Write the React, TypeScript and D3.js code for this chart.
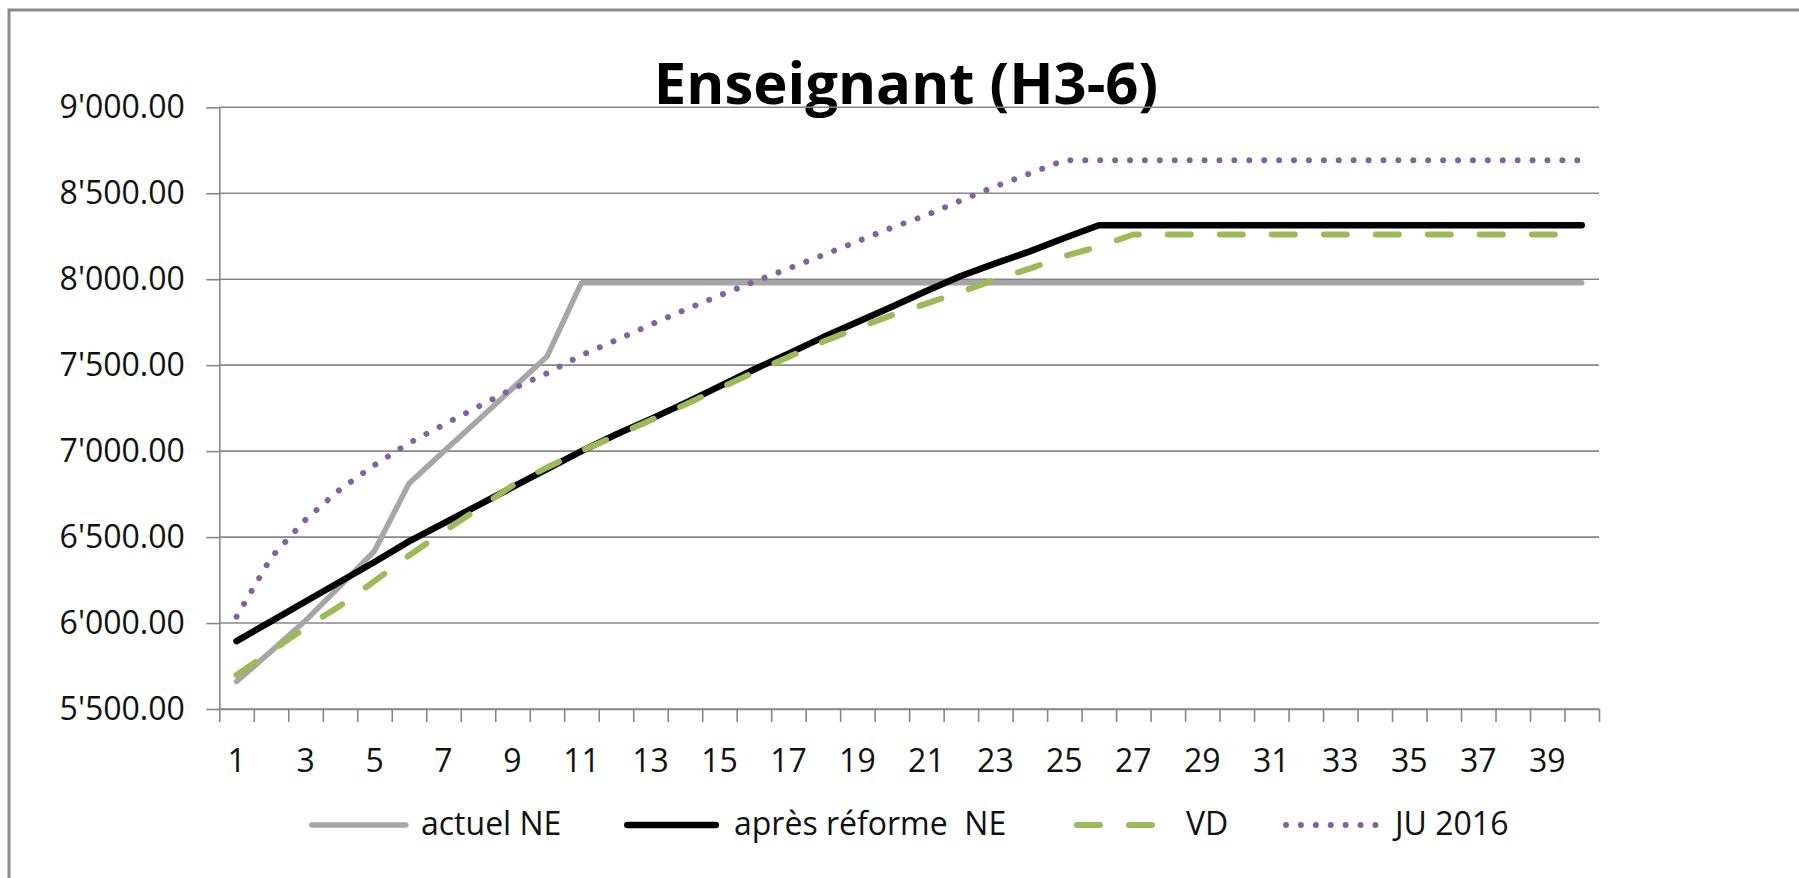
import React, { useEffect, useRef } from "react";
import * as d3 from "d3";

// years of service (x categories)
const categories = [1, 2, 3, 4, 5, 6, 7, 8, 9, 10, 11, 12, 13, 14, 15, 16, 17, 18, 19, 20,
    21, 22, 23, 24, 25, 26, 27, 28, 29, 30, 31, 32, 33, 34, 35, 36, 37, 38, 39, 40];

const yTicks = [5500, 6000, 6500, 7000, 7500, 8000, 8500, 9000];

const actuelNE = [5660, 5835, 6015, 6215, 6420, 6812, 6997, 7180, 7365, 7550,
    7980, 7980, 7980, 7980, 7980, 7980, 7980, 7980, 7980, 7980,
    7980, 7980, 7980, 7980, 7980, 7980, 7980, 7980, 7980, 7980,
    7980, 7980, 7980, 7980, 7980, 7980, 7980, 7980, 7980, 7980];

const apresReformeNE = [5895, 6010, 6125, 6240, 6355, 6475, 6580, 6685, 6790, 6895,
    7000, 7097, 7186, 7279, 7377, 7475, 7567, 7662, 7751, 7840,
    7931, 8019, 8092, 8162, 8240, 8314, 8314, 8314, 8314, 8314,
    8314, 8314, 8314, 8314, 8314, 8314, 8314, 8314, 8314, 8314];

const vd = [5698, 5835, 5973, 6100, 6244, 6393, 6531, 6665, 6800, 6905,
    7002, 7090, 7180, 7270, 7365, 7458, 7548, 7636, 7716, 7791,
    7858, 7926, 7998, 8062, 8134, 8190, 8260, 8260, 8260, 8260,
    8260, 8260, 8260, 8260, 8260, 8260, 8260, 8260, 8260, 8260];

const ju2016 = [6037, 6380, 6601, 6777, 6919, 7047, 7153, 7258, 7362, 7453,
    7558, 7645, 7735, 7822, 7905, 7985, 8062, 8140, 8220, 8300,
    8372, 8458, 8540, 8615, 8692, 8692, 8692, 8692, 8692, 8692,
    8692, 8692, 8692, 8692, 8692, 8692, 8692, 8692, 8692, 8692];

const seriesNames = ["actuel NE", "après réforme  NE", "VD", "JU 2016"];

var W = 1799, H = 878;
var plot = { left: 219.3, right: 1599, top: 107.3, bottom: 709 };
var font = "'Open Sans', sans-serif";
var gridColor = "#878787";

// line styles, same order as seriesNames
var styles = [
    { color: "#a6a6a6", width: 5.5, dash: null, cap: "round" },
    { color: "#000000", width: 6.5, dash: null, cap: "round" },
    { color: "#9bbb59", width: 6, dash: "23,29", cap: "round" },
    { color: "#8064a2", width: 6, dash: "0.01,14.9", cap: "round" },
];
// legend layout: line start/end and text position
var legendPos = [
    { x1: 311.8, x2: 405.8, tx: 421 },
    { x1: 627.3, x2: 715.8, tx: 734 },
    { x1: 1077, x2: 1152, tx: 1186 },
    { x1: 1286, x2: 1376, tx: 1395 },
];

function App() {
    const ref = useRef<SVGSVGElement>(null);

    useEffect(() => {
        chart();
    }, []);

    return (
        <svg ref={ref} width={W} height={H}
            style={{ position: "absolute", left: 0, top: 0, background: "#fff" }}></svg>
    );

    function chart() {
        var svg = d3.select(ref.current);
        svg.selectAll("*").remove();

        var x = d3.scaleBand<number>()
            .domain(categories)
            .range([plot.left, plot.right]);
        var xEdge = d3.scaleLinear()
            .domain([0, categories.length])
            .range([plot.left, plot.right]);
        var y = d3.scaleLinear()
            .domain([5500, 9000])
            .range([plot.bottom, plot.top]);

        var fmt = d3.formatLocale({ decimal: ".", thousands: "'", grouping: [3], currency: ["", ""] }).format(",.2f");

        // chart frame (left + top visible)
        svg.append("path")
            .attr("d", `M9,${H} V10 H${W}`)
            .attr("fill", "none")
            .attr("stroke", "#8a8a8a")
            .attr("stroke-width", 3);

        // title
        svg.append("text")
            .attr("x", 906)
            .attr("y", 104)
            .attr("text-anchor", "middle")
            .style("font-family", font)
            .style("font-weight", "bold")
            .style("font-size", "58px")
            .attr("fill", "#000")
            .text("Enseignant (H3-6)");

        // gridlines
        svg.append("g")
            .selectAll("line")
            .data(yTicks)
            .enter()
            .append("line")
            .attr("x1", plot.left)
            .attr("x2", plot.right)
            .attr("y1", (d) => y(d))
            .attr("y2", (d) => y(d))
            .attr("stroke", gridColor)
            .attr("stroke-width", 1.6);

        // Y axis
        var gy = svg.append("g")
            .attr("transform", `translate(${plot.left},0)`)
            .call(d3.axisLeft(y).tickValues(yTicks).tickSizeInner(13).tickSizeOuter(0)
                .tickPadding(21.5).tickFormat((d: any) => fmt(d)));
        gy.select(".domain").attr("stroke", gridColor).attr("stroke-width", 1.6);
        gy.selectAll(".tick line").attr("stroke", gridColor).attr("stroke-width", 1.6);
        gy.selectAll(".tick text")
            .attr("dy", "0.33em")
            .attr("fill", "#111")
            .style("font-family", font)
            .style("font-size", "32px");

        // X axis tick marks on category edges
        var gx = svg.append("g")
            .attr("transform", `translate(0,${plot.bottom})`)
            .call(d3.axisBottom(xEdge).tickValues(d3.range(0, categories.length + 1))
                .tickSizeInner(13).tickSizeOuter(0).tickFormat(() => ""));
        gx.select(".domain").attr("stroke", gridColor).attr("stroke-width", 1.6);
        gx.selectAll(".tick line").attr("stroke", gridColor).attr("stroke-width", 1.6);

        // X labels, every other category
        var gl = svg.append("g")
            .attr("transform", `translate(0,${plot.bottom})`)
            .call(d3.axisBottom(x).tickValues(categories.filter((c) => c % 2 === 1))
                .tickSize(0).tickSizeOuter(0));
        gl.select(".domain").remove();
        gl.selectAll(".tick text")
            .attr("y", 63)
            .attr("dy", 0)
            .attr("fill", "#111")
            .style("font-family", font)
            .style("font-size", "32px");

        // series lines
        var allSeries = [actuelNE, apresReformeNE, vd, ju2016];
        var line = d3.line<number>()
            .x((d, i) => x(categories[i])! + x.bandwidth() / 2)
            .y((d) => y(d));

        allSeries.forEach((s, i) => {
            var st = styles[i];
            svg.append("path")
                .datum(s)
                .attr("fill", "none")
                .attr("stroke", st.color)
                .attr("stroke-width", st.width)
                .attr("stroke-linecap", st.cap)
                .attr("stroke-linejoin", "round")
                .attr("stroke-dasharray", st.dash)
                .attr("d", line);
        });

        // legend
        var legendY = 825;
        seriesNames.forEach((name, i) => {
            var st = styles[i];
            var p = legendPos[i];
            svg.append("line")
                .attr("x1", p.x1)
                .attr("x2", p.x2)
                .attr("y1", legendY)
                .attr("y2", legendY)
                .attr("stroke", st.color)
                .attr("stroke-width", st.width)
                .attr("stroke-linecap", st.cap)
                .attr("stroke-dasharray", st.dash);
            svg.append("text")
                .attr("x", p.tx)
                .attr("y", legendY + 10)
                .attr("fill", "#111")
                .style("font-family", font)
                .style("font-size", "32px")
                .style("white-space", "pre")
                .text(name);
        });
    }
}

export default App;
